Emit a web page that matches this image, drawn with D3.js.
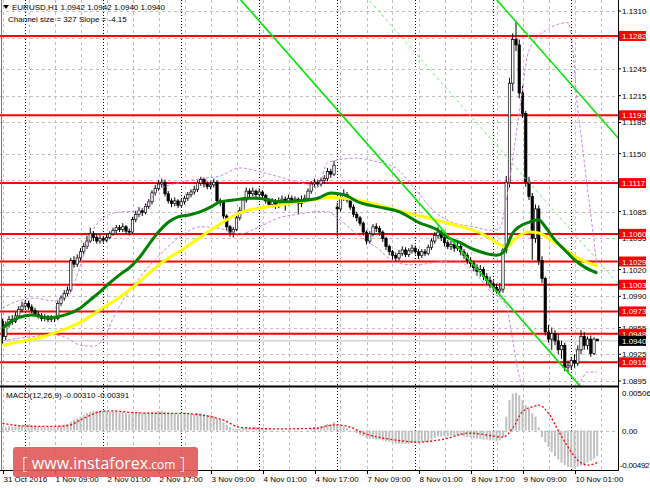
<!DOCTYPE html>
<html>
<head>
<meta charset="utf-8">
<script src="https://cdn.jsdelivr.net/npm/d3@7"></script>
<style>
html, body { margin: 0; padding: 0; background: #fff; }
svg { display: block; font-family: "Liberation Sans", Arial, sans-serif; }
</style>
</head>
<body>
<svg id="chart" width="650" height="488"></svg>
<script>
/* EURUSD H1 with levels, channel, MAs, bands and MACD */

// ---- data ----
var opens = [1.0962,1.0945,1.0958,1.0964,1.0962,1.0968,1.0975,1.0979,1.0982,1.0978,
 1.0974,1.0970,1.0968,1.0965,1.0967,1.0964,1.0966,1.0965,1.0982,1.0988,
 1.0993,1.0997,1.1030,1.1026,1.1033,1.1040,1.1046,1.1052,1.1060,1.1056,
 1.1052,1.1055,1.1053,1.1056,1.1060,1.1064,1.1067,1.1065,1.1068,1.1063,
 1.1062,1.1076,1.1082,1.1086,1.1084,1.1091,1.1096,1.1106,1.1111,1.1116,
 1.1118,1.1105,1.1097,1.1094,1.1097,1.1092,1.1096,1.1100,1.1104,1.1107,
 1.1110,1.1117,1.1121,1.1116,1.1113,1.1115,1.1118,1.1097,1.1095,1.1080,
 1.1068,1.1062,1.1065,1.1078,1.1086,1.1098,1.1108,1.1105,1.1108,1.1104,
 1.1107,1.1103,1.1097,1.1093,1.1096,1.1092,1.1097,1.1099,1.1095,1.1100,
 1.1097,1.1099,1.1094,1.1098,1.1100,1.1108,1.1116,1.1118,1.1116,1.1120,
 1.1122,1.1130,1.1127,1.1090,1.1088,1.1100,1.1104,1.1098,1.1090,1.1082,
 1.1078,1.1072,1.1062,1.1052,1.1060,1.1068,1.1066,1.1062,1.1055,1.1046,
 1.1040,1.1036,1.1033,1.1038,1.1042,1.1037,1.1041,1.1044,1.1040,1.1036,
 1.1040,1.1038,1.1045,1.1052,1.1058,1.1062,1.1056,1.1050,1.1046,1.1048,
 1.1044,1.1046,1.1040,1.1036,1.1030,1.1027,1.1022,1.1018,1.1020,1.1012,
 1.1008,1.1004,1.1000,1.0996,1.0998,1.1042,1.1118,1.1229,1.1278,1.1272,
 1.1218,1.1195,1.1118,1.1102,1.1055,1.1088,1.1030,1.1010,1.0950,1.0942,
 1.0948,1.0940,1.0930,1.0935,1.0910,1.0912,1.0918,1.0915,1.0930,1.0945,
 1.0935,1.0942,1.0926,1.0942];
var highs = [1.0965,1.0962,1.0968,1.0969,1.0972,1.0979,1.0984,1.0986,1.0985,1.0981,
 1.0977,1.0973,1.0971,1.0970,1.0969,1.0969,1.0968,1.0985,1.0991,1.0997,
 1.1001,1.1033,1.1035,1.1037,1.1044,1.1050,1.1058,1.1067,1.1063,1.1060,
 1.1059,1.1058,1.1060,1.1063,1.1067,1.1070,1.1070,1.1072,1.1070,1.1066,
 1.1079,1.1086,1.1090,1.1089,1.1094,1.1099,1.1109,1.1115,1.1120,1.1122,
 1.1121,1.1108,1.1100,1.1101,1.1099,1.1099,1.1103,1.1107,1.1110,1.1114,
 1.1120,1.1124,1.1123,1.1119,1.1119,1.1122,1.1120,1.1100,1.1097,1.1082,
 1.1070,1.1068,1.1081,1.1090,1.1101,1.1112,1.1111,1.1112,1.1110,1.1111,
 1.1109,1.1105,1.1100,1.1100,1.1099,1.1101,1.1103,1.1102,1.1104,1.1103,
 1.1102,1.1101,1.1103,1.1104,1.1111,1.1119,1.1122,1.1121,1.1123,1.1126,
 1.1134,1.1133,1.1142,1.1095,1.1104,1.1110,1.1107,1.1101,1.1093,1.1085,
 1.1080,1.1074,1.1064,1.1063,1.1071,1.1072,1.1069,1.1064,1.1057,1.1048,
 1.1042,1.1039,1.1042,1.1046,1.1045,1.1044,1.1048,1.1047,1.1043,1.1043,
 1.1043,1.1048,1.1055,1.1062,1.1068,1.1064,1.1058,1.1053,1.1052,1.1051,
 1.1050,1.1049,1.1043,1.1039,1.1034,1.1030,1.1026,1.1025,1.1023,1.1016,
 1.1012,1.1008,1.1004,1.1005,1.1048,1.1125,1.1235,1.1285,1.1299,1.1278,
 1.1226,1.1198,1.1124,1.1106,1.1093,1.1092,1.1035,1.1012,1.0958,1.0955,
 1.0952,1.0948,1.0940,1.0938,1.0918,1.0922,1.0925,1.0935,1.0952,1.0950,
 1.0945,1.0946,1.0944,1.0942];
var lows = [1.0937,1.0941,1.0955,1.0958,1.0960,1.0966,1.0972,1.0976,1.0975,1.0971,
 1.0968,1.0965,1.0962,1.0962,1.0961,1.0961,1.0961,1.0963,1.0979,1.0985,
 1.0990,1.0995,1.1022,1.1023,1.1030,1.1037,1.1043,1.1050,1.1052,1.1049,
 1.1049,1.1050,1.1051,1.1054,1.1058,1.1061,1.1062,1.1062,1.1060,1.1058,
 1.1060,1.1073,1.1079,1.1080,1.1082,1.1088,1.1093,1.1103,1.1108,1.1112,
 1.1102,1.1094,1.1090,1.1091,1.1089,1.1090,1.1093,1.1097,1.1101,1.1104,
 1.1107,1.1114,1.1112,1.1110,1.1110,1.1112,1.1094,1.1091,1.1077,1.1063,
 1.1057,1.1056,1.1063,1.1075,1.1083,1.1095,1.1101,1.1102,1.1100,1.1101,
 1.1099,1.1094,1.1089,1.1090,1.1088,1.1089,1.1093,1.1086,1.1092,1.1093,
 1.1094,1.1082,1.1090,1.1095,1.1097,1.1105,1.1112,1.1112,1.1113,1.1116,
 1.1119,1.1123,1.1125,1.1057,1.1085,1.1097,1.1095,1.1087,1.1079,1.1074,
 1.1069,1.1058,1.1048,1.1049,1.1057,1.1062,1.1058,1.1051,1.1042,1.1036,
 1.1031,1.1029,1.1030,1.1035,1.1034,1.1034,1.1038,1.1037,1.1032,1.1033,
 1.1035,1.1036,1.1042,1.1049,1.1055,1.1052,1.1046,1.1043,1.1042,1.1040,
 1.1041,1.1036,1.1032,1.1026,1.1023,1.1018,1.1013,1.1012,1.1008,1.1003,
 1.0999,1.0996,1.0993,1.0993,1.0994,1.1038,1.1112,1.1220,1.1265,1.1212,
 1.1190,1.1113,1.1098,1.1031,1.1050,1.1025,1.1005,1.0946,1.0938,1.0930,
 1.0935,1.0925,1.0920,1.0906,1.0905,1.0908,1.0910,1.0912,1.0925,1.0930,
 1.0930,1.0922,1.0924,1.0940];
var closes = [1.0945,1.0958,1.0964,1.0962,1.0968,1.0975,1.0979,1.0982,1.0978,1.0974,
 1.0970,1.0968,1.0965,1.0967,1.0964,1.0966,1.0965,1.0982,1.0988,1.0993,
 1.0997,1.1030,1.1026,1.1033,1.1040,1.1046,1.1052,1.1060,1.1056,1.1052,
 1.1055,1.1053,1.1056,1.1060,1.1064,1.1067,1.1065,1.1068,1.1063,1.1062,
 1.1076,1.1082,1.1086,1.1084,1.1091,1.1096,1.1106,1.1111,1.1116,1.1118,
 1.1105,1.1097,1.1094,1.1097,1.1092,1.1096,1.1100,1.1104,1.1107,1.1110,
 1.1117,1.1121,1.1116,1.1113,1.1115,1.1118,1.1097,1.1095,1.1080,1.1068,
 1.1062,1.1065,1.1078,1.1086,1.1098,1.1108,1.1105,1.1108,1.1104,1.1107,
 1.1103,1.1097,1.1093,1.1096,1.1092,1.1097,1.1099,1.1095,1.1100,1.1097,
 1.1099,1.1094,1.1098,1.1100,1.1108,1.1116,1.1118,1.1116,1.1120,1.1122,
 1.1130,1.1127,1.1137,1.1088,1.1100,1.1104,1.1098,1.1090,1.1082,1.1078,
 1.1072,1.1062,1.1052,1.1060,1.1068,1.1066,1.1062,1.1055,1.1046,1.1040,
 1.1036,1.1033,1.1038,1.1042,1.1037,1.1041,1.1044,1.1040,1.1036,1.1040,
 1.1038,1.1045,1.1052,1.1058,1.1062,1.1056,1.1050,1.1046,1.1048,1.1044,
 1.1046,1.1040,1.1036,1.1030,1.1027,1.1022,1.1018,1.1020,1.1012,1.1008,
 1.1004,1.1000,1.0996,1.0998,1.1042,1.1118,1.1229,1.1278,1.1272,1.1218,
 1.1195,1.1118,1.1102,1.1055,1.1088,1.1030,1.1010,1.0950,1.0942,1.0948,
 1.0940,1.0930,1.0935,1.0910,1.0912,1.0918,1.0915,1.0930,1.0945,1.0935,
 1.0942,1.0926,1.0942,1.0940];

// moving averages (green fast, yellow slow), sampled at bar indexes
var greenIdx = [0,2,5,9,14,17,20,24,27,30,33,36,39,42,45,48,51,54,57,61,64,67,71,76,81,85,91,97,101,105,
 110,116,122,128,134,137,141,144,147,150,152,154,155,157,159,162,165,167,170,173,176,179,183];
var greenMA = [1.0954,1.0960,1.0966,1.0969,1.0966,1.0967,1.0970,1.0977,1.0986,1.0995,1.1005,1.1014,1.1022,1.1033,1.1048,
 1.1062,1.1073,1.1079,1.1081,1.1085,1.1090,1.1096,1.1098,1.1100,1.1099,1.1096,1.1097,1.1100,1.1106,1.1104,
 1.1095,1.1090,1.1085,1.1073,1.1064,1.1056,1.1050,1.1044,1.1040,1.1037,1.1036,1.1039,1.1045,1.1061,1.1068,
 1.1073,1.1076,1.1068,1.1053,1.1042,1.1031,1.1023,1.1016];
var yellowIdx = [0,5,12,17,24,30,36,42,48,56,64,70,74,79,85,91,97,101,107,113,
 119,125,131,137,144,147,150,153,155,157,159,162,165,168,171,174,177,183];
var yellowMA = [1.0935,1.0939,1.0944,1.0950,1.0961,1.0975,1.0989,1.1006,1.1025,1.1044,1.1064,1.1078,1.1085,1.1089,1.1092,
 1.1096,1.1099,1.1101,1.1099,1.1095,1.1089,1.1083,1.1078,1.1072,1.1065,1.1061,1.1055,1.1048,1.1044,1.1052,
 1.1058,1.1062,1.1061,1.1055,1.1048,1.1040,1.1033,1.1024];

// bands (violet dashed)
var upperIdx = [0,5,10,15,20,24,27,30,35,42,48,55,61,67,73,79,85,91,97,100,
 109,115,121,127,133,139,145,150,153,155,159,162,168,174,175,177,178,180,182,183];
var upperBand = [1.0977,1.0985,1.0988,1.0985,1.0990,1.1025,1.1058,1.1075,1.1084,1.1086,1.1109,1.1118,1.1122,1.1125,1.1134,
 1.1130,1.1124,1.1118,1.1113,1.1140,1.1145,1.1141,1.1134,1.1110,1.1085,1.1072,1.1068,1.1064,1.1066,1.1098,
 1.1196,1.1266,1.1290,1.1297,1.1283,1.1200,1.1171,1.1111,1.1052,1.1021];
var lowerIdx = [0,5,10,15,20,24,28,31,34,37,42,48,55,61,67,73,79,85,91,97,
 100,103,109,115,121,127,133,139,145,150,153,155,157,159,161,165,170,174,176,178,180,183];
var lowerBand = [1.0940,1.0943,1.0945,1.0947,1.0943,1.0935,1.0934,1.0942,1.0965,1.0985,1.1010,1.1035,1.1058,1.1068,1.1066,
 1.1060,1.1068,1.1078,1.1082,1.1085,1.1085,1.1078,1.1060,1.1045,1.1028,1.1025,1.1028,1.1030,1.1018,1.0996,
 1.0988,1.0980,1.0940,1.0900,1.0880,1.0870,1.0865,1.0868,1.0878,1.0895,1.0905,1.0905];

// horizontal levels
var levels = [1.1282,1.1193,1.1117,1.1060,1.1029,1.1003,1.0973,1.0948,1.0916];
var lastPrice = 1.0940;
var priceTicks = [1.1310,1.1280,1.1245,1.1215,1.1185,1.1150,1.1120,1.1085,1.1055,1.1020,1.0990,1.0955,1.0925,1.0895];

// equidistant channel: anchor bar, price of lower line there, slope per bar, width
var chanBar = 171;
var chanPrice = 1.0917;
var chanSlope = -0.000415;
var chanSize = 0.0327;

// MACD(12,26,9)
var macdHist = [0.0004,0.0004,0.0005,0.0005,0.0005,0.0006,0.0006,0.0007,0.0007,0.0006,
 0.0006,0.0005,0.0005,0.0004,0.0004,0.0004,0.0004,0.0005,0.0006,0.0007,
 0.0008,0.0011,0.0013,0.0015,0.0017,0.0019,0.0021,0.0023,0.0024,0.0024,
 0.0024,0.0024,0.0024,0.0023,0.0023,0.0023,0.0022,0.0022,0.0021,0.0020,
 0.0021,0.0021,0.0022,0.0021,0.0022,0.0022,0.0023,0.0023,0.0024,0.0024,
 0.0023,0.0022,0.0021,0.0021,0.0020,0.0020,0.0020,0.0020,0.0020,0.0020,
 0.0021,0.0021,0.0020,0.0019,0.0019,0.0018,0.0015,0.0013,0.0010,0.0007,
 0.0004,0.0002,0.0002,0.0002,0.0003,0.0004,0.0004,0.0004,0.0004,0.0004,
 0.0003,0.0002,0.0001,0.0001,0.0000,0.0000,0.0001,0.0000,0.0001,0.0000,
 0.0000,-0.0001,0.0000,0.0000,0.0001,0.0003,0.0004,0.0004,0.0005,0.0006,
 0.0008,0.0008,0.0010,0.0007,0.0006,0.0005,0.0003,0.0001,-0.0001,-0.0003,
 -0.0005,-0.0007,-0.0009,-0.0010,-0.0010,-0.0011,-0.0011,-0.0012,-0.0013,-0.0014,
 -0.0015,-0.0016,-0.0016,-0.0016,-0.0016,-0.0016,-0.0015,-0.0015,-0.0015,-0.0014,
 -0.0014,-0.0013,-0.0011,-0.0009,-0.0007,-0.0007,-0.0007,-0.0007,-0.0006,-0.0006,
 -0.0006,-0.0006,-0.0007,-0.0008,-0.0008,-0.0009,-0.0010,-0.0010,-0.0011,-0.0011,
 -0.0012,-0.0012,-0.0013,-0.0012,-0.0008,0.0017,0.0037,0.0045,0.0046,0.0043,
 0.0037,0.0031,0.0027,0.0021,0.0017,0.0004,-0.0008,-0.0014,-0.0020,-0.0026,
 -0.0031,-0.0035,-0.0039,-0.0042,-0.0044,-0.0045,-0.0045,-0.0044,-0.0043,-0.0041,
 -0.0039,-0.0037,-0.0034,-0.0031];
var signalIdx = [0,5,14,20,25,30,33,40,47,54,61,66,69,72,76,86,97,99,103,107,
 111,120,128,135,144,150,154,157,160,164,165,168,171,174,177,180,183];
var signalVal = [0.0009,0.0006,0.0005,0.0006,0.0015,0.0023,0.0024,0.0022,0.0021,0.0021,0.0019,0.0015,0.0011,0.0005,0.0003,
 0.0002,0.0003,0.0005,0.0007,0.0004,-0.0003,-0.0011,-0.0014,-0.0011,-0.0003,-0.0006,-0.0008,0.0003,0.0023,0.0030,
 0.0031,0.0021,0.0000,-0.0020,-0.0036,-0.0042,-0.0039];
var macdTicks = [0.00506, 0.00, -0.00492];

// time axis: one label every 16 bars
var timeLabels = ["31 Oct 2016","1 Nov 09:00","2 Nov 01:00","2 Nov 17:00","3 Nov 09:00","4 Nov 01:00",
 "4 Nov 17:00","7 Nov 09:00","8 Nov 01:00","8 Nov 17:00","9 Nov 09:00","10 Nov 01:00"];

// ---- layout ----
var plotRight = 618;
var mainBottom = 386;
var macdTop = 388, macdBottom = 470;
var barStep = 3.25;

var x = d3.scaleLinear().domain([0, 183]).range([2.5, 2.5 + 183 * barStep]);
var y = d3.scaleLinear().domain([1.0895, 1.1310]).range([381, 11]);
var yM = d3.scaleLinear().domain([-0.00492, 0.00506]).range([471, 389]);

var svg = d3.select("#chart");
var defs = svg.append("defs");
defs.append("clipPath").attr("id", "clipMain").append("rect")
    .attr("x", 0).attr("y", 0).attr("width", plotRight).attr("height", mainBottom);
defs.append("clipPath").attr("id", "clipMacd").append("rect")
    .attr("x", 0).attr("y", macdTop).attr("width", plotRight).attr("height", macdBottom - macdTop);

svg.append("rect").attr("width", 650).attr("height", 488).attr("fill", "#fff");

var main = svg.append("g").attr("clip-path", "url(#clipMain)");
var macd = svg.append("g").attr("clip-path", "url(#clipMacd)");

// vertical grid every 8 bars, day separators at midnight
var gridBars = d3.range(0, 190, 8);
var sepBars = d3.range(7, 190, 24);
[main, macd].forEach(function (g, k) {
    var y0 = k === 0 ? 0 : macdTop, y1 = k === 0 ? mainBottom : macdBottom;
    g.selectAll(".vgrid").data(gridBars).enter().append("line")
        .attr("x1", function (d) { return Math.round(x(d)) + 0.5; })
        .attr("x2", function (d) { return Math.round(x(d)) + 0.5; })
        .attr("y1", y0).attr("y2", y1)
        .attr("stroke", "#c0c0c0").attr("stroke-dasharray", "3,3");
    g.selectAll(".sep").data(sepBars).enter().append("line")
        .attr("x1", function (d) { return Math.round(x(d)) + 0.5; })
        .attr("x2", function (d) { return Math.round(x(d)) + 0.5; })
        .attr("y1", y0).attr("y2", y1)
        .attr("stroke", "#000").attr("stroke-dasharray", "1,2");
});

main.selectAll(".hgrid").data(priceTicks).enter().append("line")
    .attr("x1", 0).attr("x2", plotRight)
    .attr("y1", function (d) { return Math.round(y(d)) + 0.5; })
    .attr("y2", function (d) { return Math.round(y(d)) + 0.5; })
    .attr("stroke", "#c0c0c0").attr("stroke-dasharray", "3,3");

macd.append("line")
    .attr("x1", 0).attr("x2", plotRight)
    .attr("y1", Math.round(yM(0)) + 0.5).attr("y2", Math.round(yM(0)) + 0.5)
    .attr("stroke", "#c0c0c0").attr("stroke-dasharray", "3,3");

// bid line
main.append("line")
    .attr("x1", 0).attr("x2", plotRight)
    .attr("y1", y(lastPrice)).attr("y2", y(lastPrice))
    .attr("stroke", "#c0c0c0").attr("stroke-width", 1);

// red levels
main.selectAll(".level").data(levels).enter().append("line")
    .attr("x1", 0).attr("x2", plotRight)
    .attr("y1", function (d) { return y(d); })
    .attr("y2", function (d) { return y(d); })
    .attr("stroke", "#ff0000").attr("stroke-width", 2);

// candles
var bars = d3.range(closes.length);
main.selectAll(".wick").data(bars).enter().append("line")
    .attr("x1", function (i) { return x(i); })
    .attr("x2", function (i) { return x(i); })
    .attr("y1", function (i) { return y(highs[i]); })
    .attr("y2", function (i) { return y(lows[i]); })
    .attr("stroke", "#000").attr("stroke-width", 1);
main.selectAll(".body").data(bars).enter().append("rect")
    .attr("x", function (i) { return x(i) - 1.2; })
    .attr("width", 2.4)
    .attr("y", function (i) { return y(Math.max(opens[i], closes[i])); })
    .attr("height", function (i) { return Math.max(0.8, Math.abs(y(opens[i]) - y(closes[i]))); })
    .attr("fill", function (i) { return closes[i] >= opens[i] ? "#fff" : "#000"; })
    .attr("stroke", "#000").attr("stroke-width", 0.7);

// bands
function seriesLine(idx, vals, scale) {
    return d3.line()
        .x(function (d, k) { return x(idx[k]); })
        .y(function (d) { return scale(d); })
        .curve(d3.curveMonotoneX)(vals);
}
[[upperIdx, upperBand], [lowerIdx, lowerBand]].forEach(function (s) {
    main.append("path").attr("d", seriesLine(s[0], s[1], y))
        .attr("fill", "none").attr("stroke", "#cc88e0")
        .attr("stroke-width", 1).attr("stroke-dasharray", "3,2");
});

// moving averages
main.append("path").attr("d", seriesLine(yellowIdx, yellowMA, y))
    .attr("fill", "none").attr("stroke", "#ffff00").attr("stroke-width", 3);
main.append("path").attr("d", seriesLine(greenIdx, greenMA, y))
    .attr("fill", "none").attr("stroke", "#008000").attr("stroke-width", 3);

// channel
function chanLine(offset) {
    var a = -60, b = 260;
    return [[x(a), y(chanPrice + (a - chanBar) * chanSlope + offset)],
            [x(b), y(chanPrice + (b - chanBar) * chanSlope + offset)]];
}
[0, chanSize].forEach(function (off) {
    main.append("path").attr("d", d3.line()(chanLine(off)))
        .attr("stroke", "#00e600").attr("stroke-width", 1.6).attr("fill", "none");
});
main.append("path").attr("d", d3.line()(chanLine(chanSize / 2)))
    .attr("stroke", "#7fe07f").attr("stroke-width", 1)
    .attr("stroke-dasharray", "3,3").attr("fill", "none");

// MACD histogram + signal
macd.selectAll(".hist").data(bars).enter().append("rect")
    .attr("x", function (i) { return x(i) - 1; })
    .attr("width", 2)
    .attr("y", function (i) { return Math.min(yM(0), yM(macdHist[i])); })
    .attr("height", function (i) { return Math.abs(yM(macdHist[i]) - yM(0)); })
    .attr("fill", "#c0c0c0");
macd.append("path").attr("d", seriesLine(signalIdx, signalVal, yM))
    .attr("fill", "none").attr("stroke", "#ff0000")
    .attr("stroke-width", 1.3).attr("stroke-dasharray", "2,2");

// frames
svg.append("line").attr("x1", 1.5).attr("x2", 1.5).attr("y1", 0).attr("y2", macdBottom).attr("stroke", "#777");
svg.append("line").attr("x1", plotRight + 0.5).attr("x2", plotRight + 0.5).attr("y1", 0).attr("y2", macdBottom).attr("stroke", "#000");
svg.append("line").attr("x1", 0).attr("x2", plotRight).attr("y1", 386.5).attr("y2", 386.5).attr("stroke", "#000").attr("stroke-width", 2);
svg.append("line").attr("x1", 0).attr("x2", plotRight + 1).attr("y1", macdBottom + 0.5).attr("y2", macdBottom + 0.5).attr("stroke", "#000");

// price axis: labels that sit under a level tag are hidden, as in the picture
var tags = levels.map(function (v) { return { v: v, bg: "#ff0000" }; });
tags.push({ v: lastPrice, bg: "#000" });
var shownTicks = priceTicks.filter(function (t) {
    return !tags.some(function (g) { return Math.abs(y(g.v) - y(t)) < 4; });
});
svg.selectAll(".ptick").data(shownTicks).enter().append("text")
    .attr("x", 622).attr("y", function (d) { return y(d) + 3; })
    .attr("font-size", 8).attr("fill", "#000")
    .text(function (d) { return d.toFixed(4); });
svg.selectAll(".ptickmark").data(priceTicks).enter().append("line")
    .attr("x1", plotRight).attr("x2", plotRight + 3)
    .attr("y1", function (d) { return y(d); }).attr("y2", function (d) { return y(d); })
    .attr("stroke", "#000");

var tag = svg.selectAll(".tag").data(tags).enter().append("g");
tag.append("rect")
    .attr("x", plotRight + 1).attr("width", 27)
    .attr("y", function (d) { return y(d.v) - 5; }).attr("height", 10)
    .attr("fill", function (d) { return d.bg; });
tag.append("text")
    .attr("x", 622).attr("y", function (d) { return y(d.v) + 3; })
    .attr("font-size", 8).attr("fill", "#fff")
    .text(function (d) { return d.v.toFixed(4); });

// MACD axis
svg.selectAll(".mtick").data(macdTicks).enter().append("text")
    .attr("x", function (d, k) { return k === 2 ? 620 : 622; })
    .attr("y", function (d, k) { return [396, 434, 468][k]; })
    .attr("font-size", 8).attr("fill", "#000")
    .attr("letter-spacing", function (d, k) { return k === 2 ? -0.3 : 0; })
    .text(function (d) { return d === 0 ? "0.00" : d.toFixed(5); });

// time axis
var timeBars = timeLabels.map(function (t, k) { return k * 16; });
svg.selectAll(".tmark").data(timeBars).enter().append("line")
    .attr("x1", function (d) { return Math.round(x(d)) + 0.5; })
    .attr("x2", function (d) { return Math.round(x(d)) + 0.5; })
    .attr("y1", macdBottom).attr("y2", macdBottom + 4)
    .attr("stroke", "#000");
svg.selectAll(".tlabel").data(timeLabels).enter().append("text")
    .attr("x", function (d, k) { return x(timeBars[k]) + 1; })
    .attr("y", 482)
    .attr("font-size", 8).attr("fill", "#000")
    .text(function (d) { return d; });

// header texts
svg.append("path").attr("d", "M3,5 L9,5 L6,9 Z").attr("fill", "#000");
svg.append("text").attr("x", 12).attr("y", 10).attr("font-size", 8)
    .text("EURUSD,H1  1.0942 1.0942 1.0940 1.0940");
svg.append("text").attr("x", 8).attr("y", 22).attr("font-size", 8)
    .text("Channel size = 327 Slope = -4.15");
svg.append("text").attr("x", 6).attr("y", 398).attr("font-size", 8)
    .text("MACD(12,26,9) -0.00310 -0.00391");

// watermark
svg.append("rect").attr("x", 13).attr("y", 447).attr("width", 185).attr("height", 30)
    .attr("rx", 3).attr("fill", "#e05858").attr("fill-opacity", 0.9);
var wm = svg.append("text").attr("x", 22).attr("y", 469).attr("fill", "#fff")
    .attr("font-family", "'Open Sans', 'Liberation Sans', sans-serif");
wm.append("tspan").attr("font-size", 17).attr("font-weight", 300).text("[ ");
wm.append("tspan").attr("font-size", 16).text("www.instaforex");
wm.append("tspan").attr("font-size", 12).text(".com");
wm.append("tspan").attr("font-size", 17).attr("font-weight", 300).text(" ]");
</script>
</body>
</html>
